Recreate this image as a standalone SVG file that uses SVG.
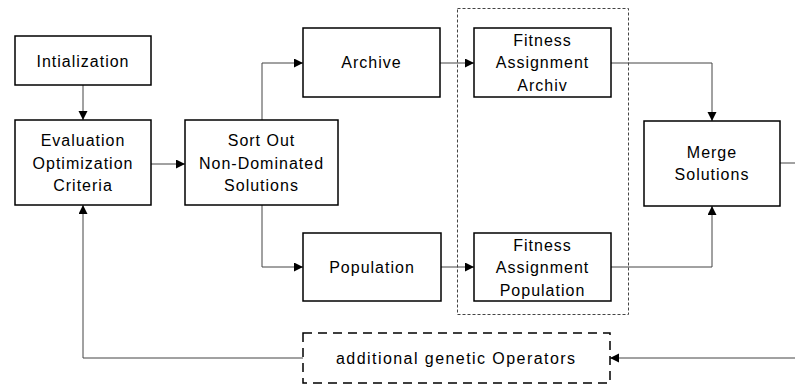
<svg xmlns="http://www.w3.org/2000/svg" width="795" height="385" viewBox="0 0 795 385">
<style>
.box{fill:#fff;stroke:#000;stroke-width:1.5}
.dbox{fill:#fff;stroke:#000;stroke-width:1.5;stroke-dasharray:9,6}
.group{fill:none;stroke:#444;stroke-width:1;stroke-dasharray:3,2}
.conn{fill:none;stroke:#444;stroke-width:1}
.arr{marker-end:url(#ah)}
text{font-family:"Liberation Sans",Arial,sans-serif;font-size:16px;letter-spacing:1px;fill:#000;text-anchor:middle}
</style>
<defs>
<marker id="ah" markerUnits="userSpaceOnUse" markerWidth="10" markerHeight="10" refX="9" refY="4.5" orient="auto">
<path d="M0,0 L9,4.5 L0,9 z" fill="#000"/>
</marker>
</defs>
<rect class="group" x="457.5" y="8.5" width="171" height="306"/>
<g id="connectors">
<path class="conn arr" d="M83,85 V120"/>
<path class="conn arr" d="M151,164 H185"/>
<path class="conn arr" d="M262,120 V63 H303"/>
<path class="conn arr" d="M262,205 V267 H303"/>
<path class="conn arr" d="M440,63 H474"/>
<path class="conn arr" d="M441,267 H474"/>
<path class="conn arr" d="M611,63 H712 V121"/>
<path class="conn arr" d="M611,267 H712 V206"/>
<path class="conn arr" d="M780,163 H800 V358 H610"/>
<path class="conn arr" d="M303,358 H83 V205"/>
</g>
<g id="init"><rect class="box" x="15" y="36" width="136" height="49"/><text x="83" y="67">Intialization</text></g>
<g id="eval"><rect class="box" x="15" y="120" width="136" height="85"/><text x="83" y="146">Evaluation</text><text x="83" y="168.5">Optimization</text><text x="83" y="191">Criteria</text></g>
<g id="sort"><rect class="box" x="185" y="120" width="153" height="85"/><text x="261.5" y="146">Sort Out</text><text x="261.5" y="168.5">Non-Dominated</text><text x="261.5" y="191">Solutions</text></g>
<g id="archive"><rect class="box" x="303" y="28" width="137" height="69"/><text x="371.5" y="68">Archive</text></g>
<g id="population"><rect class="box" x="303" y="233" width="138" height="68"/><text x="372" y="273">Population</text></g>
<g id="fitArchive"><rect class="box" x="474" y="28" width="137" height="69"/><text x="542.5" y="45.5">Fitness</text><text x="542.5" y="68">Assignment</text><text x="542.5" y="90.5">Archiv</text></g>
<g id="fitPopulation"><rect class="box" x="474" y="233" width="137" height="68"/><text x="542.5" y="250.5">Fitness</text><text x="542.5" y="273">Assignment</text><text x="542.5" y="295.5">Population</text></g>
<g id="merge"><rect class="box" x="644" y="121" width="136" height="85"/><text x="712" y="158">Merge</text><text x="712" y="180">Solutions</text></g>
<g id="operators"><rect class="dbox" x="303" y="333" width="307" height="50"/><text x="455.5" y="364" textLength="239" lengthAdjust="spacing" style="letter-spacing:0">additional genetic Operators</text></g>
</svg>
